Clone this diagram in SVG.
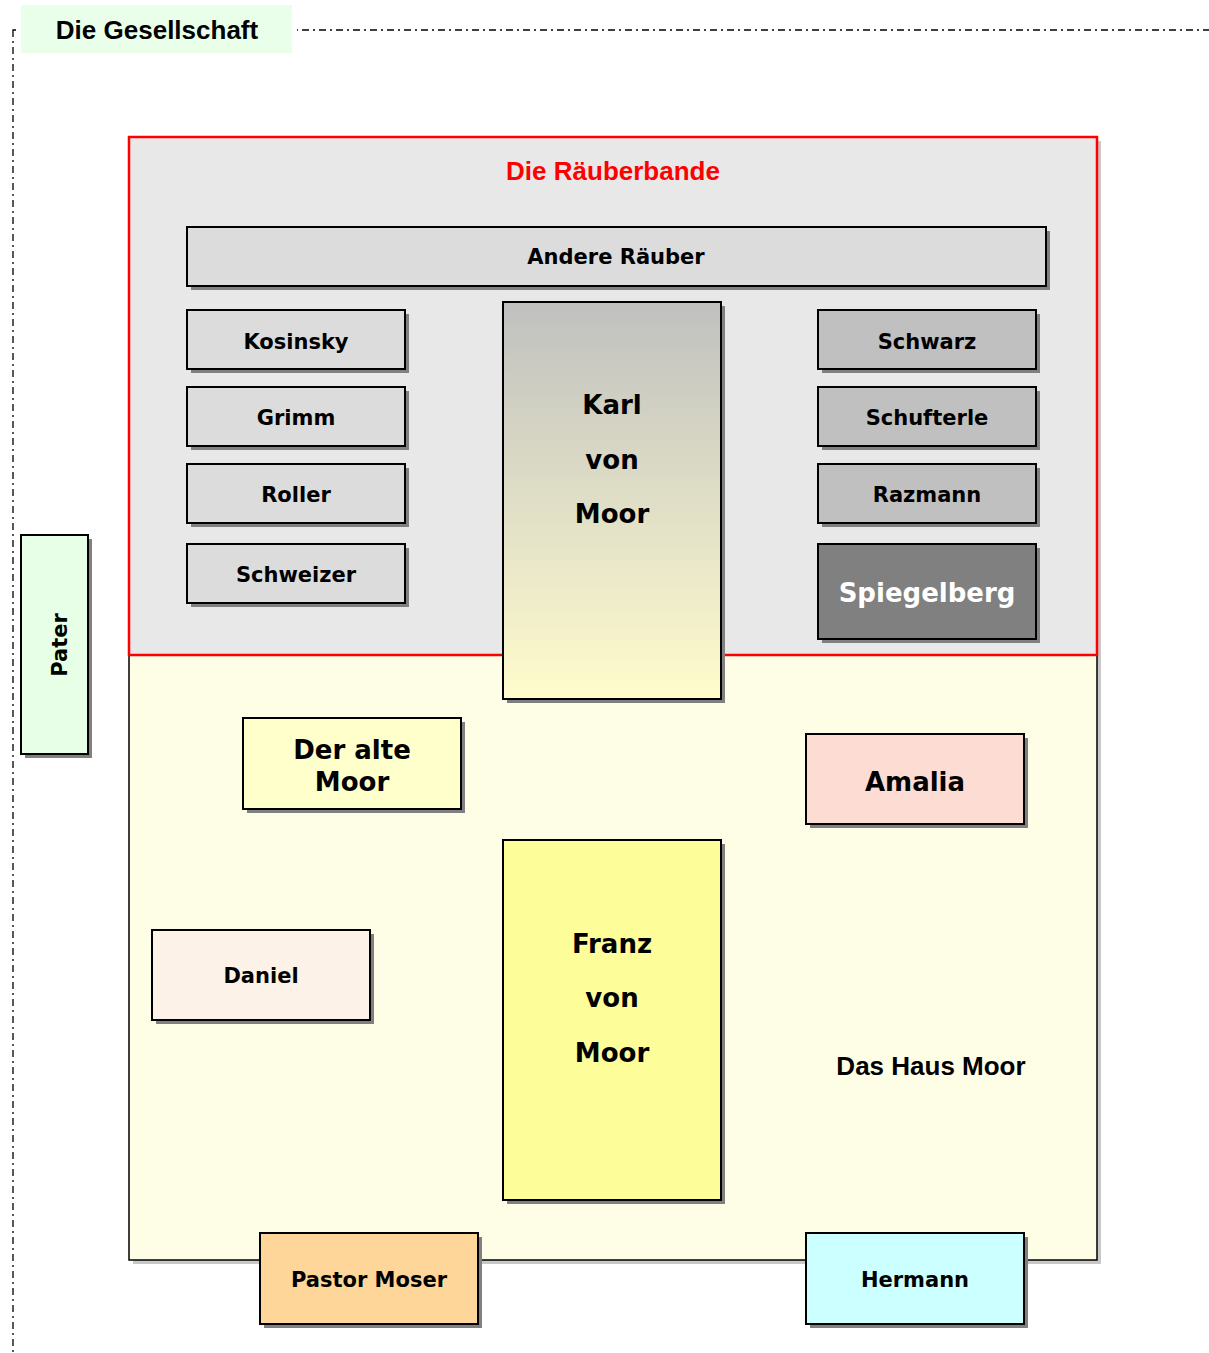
<svg xmlns="http://www.w3.org/2000/svg" width="1209" height="1353" viewBox="0 0 1209 1353">
<defs>
<linearGradient id="karlGrad" x1="0" y1="0" x2="0" y2="1">
<stop offset="0" stop-color="#c0c0c0"/>
<stop offset="1" stop-color="#fffccc"/>
</linearGradient>
<style>
.frame{fill:none;stroke:#000;stroke-width:1.3;stroke-dasharray:7 4 2 4}
.box{stroke:#000;stroke-width:2}
.shadow{fill:#808080}
.t{font-family:"DejaVu Sans",Verdana,sans-serif;font-weight:bold;text-anchor:middle;fill:#000}
.a{font-family:"Liberation Sans",Arial,sans-serif;font-weight:bold;font-size:26px;text-anchor:middle}
.s21{font-size:21px}
.s26{font-size:26px}
</style>
</defs>
<rect width="1209" height="1353" fill="#fff"/>
<g id="frame">
<rect class="frame" x="13" y="30" width="1230" height="1400"/>
<rect x="16" y="2" width="281" height="55" fill="#fff"/>
<rect x="21" y="5" width="271" height="48" fill="#eaffea"/>
<text class="a" x="157" y="39" fill="#000">Die Gesellschaft</text>
</g>
<g id="haus-moor">
<rect x="133" y="141" width="968" height="1123" fill="#c8c8c8"/>
<rect x="129" y="137" width="968" height="1123" fill="#fefee6" stroke="#000" stroke-width="1.5"/>
<text class="a" x="931" y="1075" fill="#000">Das Haus Moor</text>
</g>
<g id="raeuberbande">
<rect x="129" y="137" width="968" height="518" fill="#e8e8e8" stroke="#ff0000" stroke-width="2.5"/>
<text class="a" x="613" y="180" fill="#ff0000">Die Räuberbande</text>
</g>
<g id="andere-raeuber">
<rect class="shadow" x="191" y="231" width="859" height="59"/>
<rect class="box" x="187" y="227" width="859" height="59" fill="#dcdcdc"/>
<text class="t s21" x="616" y="264">Andere Räuber</text>
</g>
<g id="kosinsky">
<rect class="shadow" x="191" y="314" width="218" height="59"/>
<rect class="box" x="187" y="310" width="218" height="59" fill="#dcdcdc"/>
<text class="t s21" x="296" y="349">Kosinsky</text>
</g>
<g id="grimm">
<rect class="shadow" x="191" y="391" width="218" height="59"/>
<rect class="box" x="187" y="387" width="218" height="59" fill="#dcdcdc"/>
<text class="t s21" x="296" y="425">Grimm</text>
</g>
<g id="roller">
<rect class="shadow" x="191" y="468" width="218" height="59"/>
<rect class="box" x="187" y="464" width="218" height="59" fill="#dcdcdc"/>
<text class="t s21" x="296" y="502">Roller</text>
</g>
<g id="schweizer">
<rect class="shadow" x="191" y="548" width="218" height="59"/>
<rect class="box" x="187" y="544" width="218" height="59" fill="#dcdcdc"/>
<text class="t s21" x="296" y="582">Schweizer</text>
</g>
<g id="karl">
<rect class="shadow" x="507" y="306" width="218" height="397"/>
<rect class="box" x="503" y="302" width="218" height="397" fill="url(#karlGrad)"/>
<text class="t s26" x="612" y="414">Karl</text>
<text class="t s26" x="612" y="469">von</text>
<text class="t s26" x="612" y="523">Moor</text>
</g>
<g id="schwarz">
<rect class="shadow" x="822" y="314" width="218" height="59"/>
<rect class="box" x="818" y="310" width="218" height="59" fill="#c0c0c0"/>
<text class="t s21" x="927" y="349">Schwarz</text>
</g>
<g id="schufterle">
<rect class="shadow" x="822" y="391" width="218" height="59"/>
<rect class="box" x="818" y="387" width="218" height="59" fill="#c0c0c0"/>
<text class="t s21" x="927" y="425">Schufterle</text>
</g>
<g id="razmann">
<rect class="shadow" x="822" y="468" width="218" height="59"/>
<rect class="box" x="818" y="464" width="218" height="59" fill="#c0c0c0"/>
<text class="t s21" x="927" y="502">Razmann</text>
</g>
<g id="spiegelberg">
<rect class="shadow" x="822" y="548" width="218" height="95"/>
<rect class="box" x="818" y="544" width="218" height="95" fill="#808080"/>
<text class="t s26" x="927" y="602" style="fill:#fff">Spiegelberg</text>
</g>
<g id="pater">
<rect class="shadow" x="25" y="539" width="67" height="219"/>
<rect class="box" x="21" y="535" width="67" height="219" fill="#e6ffe6"/>
<text class="t s21" transform="translate(67,645) rotate(-90)" x="0" y="0">Pater</text>
</g>
<g id="der-alte-moor">
<rect class="shadow" x="247" y="722" width="218" height="91"/>
<rect class="box" x="243" y="718" width="218" height="91" fill="#ffffcc"/>
<text class="t s26" x="352" y="759">Der alte</text>
<text class="t s26" x="352" y="791">Moor</text>
</g>
<g id="amalia">
<rect class="shadow" x="810" y="738" width="218" height="90"/>
<rect class="box" x="806" y="734" width="218" height="90" fill="#fddcd4"/>
<text class="t s26" x="915" y="791">Amalia</text>
</g>
<g id="daniel">
<rect class="shadow" x="156" y="934" width="218" height="90"/>
<rect class="box" x="152" y="930" width="218" height="90" fill="#fdf2e8"/>
<text class="t s21" x="261" y="983">Daniel</text>
</g>
<g id="franz">
<rect class="shadow" x="507" y="844" width="218" height="360"/>
<rect class="box" x="503" y="840" width="218" height="360" fill="#fdfd99"/>
<text class="t s26" x="612" y="953">Franz</text>
<text class="t s26" x="612" y="1007">von</text>
<text class="t s26" x="612" y="1062">Moor</text>
</g>
<g id="pastor-moser">
<rect class="shadow" x="264" y="1237" width="218" height="91"/>
<rect class="box" x="260" y="1233" width="218" height="91" fill="#fed699"/>
<text class="t s21" x="369" y="1287">Pastor Moser</text>
</g>
<g id="hermann">
<rect class="shadow" x="810" y="1237" width="218" height="91"/>
<rect class="box" x="806" y="1233" width="218" height="91" fill="#ccffff"/>
<text class="t s21" x="915" y="1287">Hermann</text>
</g>
<g id="connectors"/>
</svg>
